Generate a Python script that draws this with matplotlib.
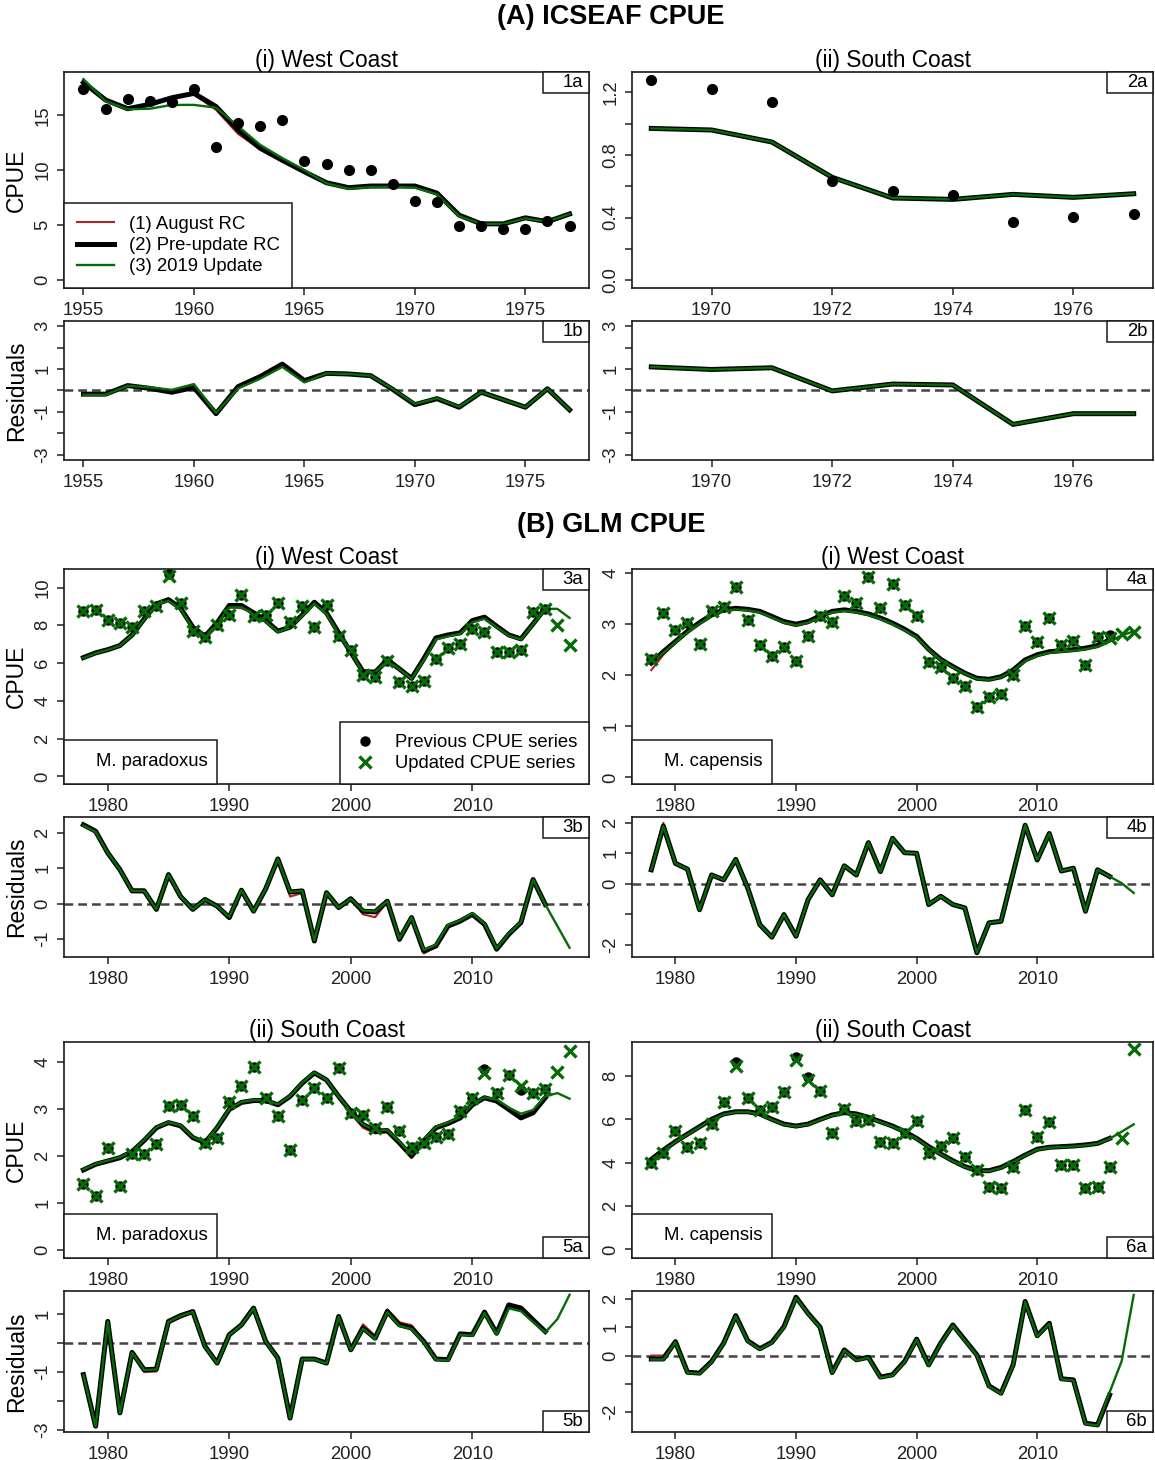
import matplotlib
matplotlib.use('Agg')
import matplotlib.pyplot as plt
from matplotlib.lines import Line2D
from matplotlib.patches import Rectangle
import numpy as np

plt.rcParams['font.family'] = ['Liberation Sans', 'DejaVu Sans']

RED = '#B22222'
GRN = '#066B06'
FS = 13.3  # tick / legend text size

# ---------------- (A) ICSEAF CPUE ----------------
yrs_w = list(range(1955, 1978))
yrs_s = list(range(1969, 1978))

w_obs = [17.4, 15.6, 16.5, 16.3, 16.2, 17.4, 12.1, 14.3, 14.0, 14.6, 10.85, 10.6,
         10.05, 10.05, 8.7, 7.2, 7.1, 4.9, 4.9, 4.65, 4.65, 5.35, 4.9]
w_black = [18.0, 16.4, 15.6, 16.0, 16.6, 17.0, 15.8, 13.65, 12.0, 10.9, 9.85, 8.85,
           8.4, 8.55, 8.55, 8.55, 7.9, 5.9, 5.1, 5.1, 5.65, 5.3, 6.0]
w_red = [18.0, 16.4, 15.6, 16.0, 16.6, 16.9, 15.5, 13.3, 11.9, 10.85, 9.8, 8.8,
         8.45, 8.5, 8.55, 8.55, 7.9, 5.9, 5.1, 5.1, 5.65, 5.3, 6.0]
w_green = [18.3, 16.3, 15.55, 15.6, 15.95, 15.95, 15.7, 14.0, 12.3, 11.1, 10.0, 8.8,
           8.3, 8.45, 8.5, 8.4, 7.8, 5.8, 5.1, 5.1, 5.6, 5.3, 6.0]
w_res_black = [-0.17, -0.17, 0.23, 0.1, -0.08, 0.14, -1.08, 0.18, 0.65, 1.23, 0.46, 0.8,
               0.77, 0.69, 0.05, -0.66, -0.38, -0.78, -0.08, -0.43, -0.78, 0.08, -0.9]
w_res_green = [-0.2, -0.2, 0.22, 0.15, 0.03, 0.3, -1.05, 0.1, 0.55, 1.1, 0.38, 0.8,
               0.77, 0.69, 0.07, -0.63, -0.36, -0.76, -0.08, -0.43, -0.78, 0.08, -0.9]

s_obs = [1.28, 1.22, 1.14, 0.635, 0.567, 0.544, 0.371, 0.403, 0.42]
s_fit = [0.970, 0.960, 0.883, 0.657, 0.525, 0.516, 0.548, 0.529, 0.552]
s_res = [1.1, 0.98, 1.06, -0.02, 0.3, 0.26, -1.58, -1.08, -1.08]

# ---------------- (B) GLM CPUE ----------------
yrs_prev = list(range(1978, 2017))   # previous series / RC fits
yrs_upd = list(range(1978, 2019))    # updated series / 2019 fit

# West coast, M. paradoxus
wp_upd = [8.78, 8.83, 8.29, 8.13, 7.9, 8.78, 9.0, 10.6, 9.17, 7.69,
          7.37, 8.02, 8.55, 9.61, 8.48, 8.55, 9.19, 8.2, 9.01, 7.93,
          9.08, 7.46, 6.71, 5.37, 5.25, 6.13, 4.98, 4.81, 5.07, 6.22,
          6.78, 7.0, 7.81, 7.67, 6.61, 6.61, 6.71, 8.73, 8.87, 7.99, 6.98]
wp_prev = [8.78, 8.83, 8.29, 8.13, 7.9, 8.78, 9.0, 10.7, 9.17, 7.69,
           7.37, 8.02, 8.55, 9.61, 8.48, 8.55, 9.19, 8.2, 9.01, 7.93,
           9.08, 7.46, 6.71, 5.37, 5.25, 6.13, 4.98, 4.81, 5.07, 6.22,
           6.78, 7.0, 7.81, 7.67, 6.61, 6.61, 6.71, 8.73, 8.87]
wp_black = [6.29, 6.54, 6.71, 6.93, 7.49, 8.34, 9.13, 9.36, 8.9, 7.9,
            7.42, 8.13, 9.05, 9.05, 8.66, 8.25, 7.69, 7.9, 8.55, 9.22,
            8.66, 7.6, 6.57, 5.55, 5.51, 6.18, 5.69, 5.19, 6.22, 7.33,
            7.49, 7.6, 8.25, 8.43, 7.95, 7.49, 7.28, 8.08, 8.9]
wp_red = [6.29, 6.54, 6.71, 6.93, 7.49, 8.34, 9.13, 9.36, 8.9, 7.9,
          7.42, 8.13, 8.95, 8.9, 8.66, 8.25, 7.69, 7.9, 8.55, 9.22,
          8.66, 7.6, 6.6, 5.6, 5.6, 6.05, 5.65, 5.15, 6.22, 7.33,
          7.49, 7.6, 8.25, 8.43, 7.95, 7.49, 7.28, 8.08, 8.9]
wp_green = [6.27, 6.52, 6.7, 6.92, 7.47, 8.3, 9.08, 9.3, 8.85, 7.85,
            7.4, 8.08, 8.95, 8.95, 8.6, 8.2, 7.65, 7.88, 8.5, 9.15,
            8.6, 7.55, 6.55, 5.52, 5.5, 6.15, 5.67, 5.17, 6.15, 7.25,
            7.42, 7.55, 8.15, 8.35, 7.9, 7.45, 7.25, 8.05, 8.87, 8.87, 8.39]
wp_res_black = [2.22, 2.04, 1.43, 0.96, 0.36, 0.36, -0.16, 0.82, 0.2, -0.16,
                0.12, -0.07, -0.39, 0.38, -0.21, 0.42, 1.26, 0.33, 0.36, -1.05,
                0.31, -0.11, 0.14, -0.21, -0.23, 0.07, -1.0, -0.39, -1.33, -1.19,
                -0.63, -0.49, -0.3, -0.58, -1.28, -0.86, -0.53, 0.68, -0.02]
wp_res_red = [2.22, 2.04, 1.43, 0.96, 0.4, 0.4, -0.16, 0.82, 0.2, -0.16,
              0.12, -0.07, -0.39, 0.38, -0.21, 0.42, 1.26, 0.2, 0.3, -1.05,
              0.31, -0.11, 0.14, -0.3, -0.38, 0.05, -1.05, -0.39, -1.4, -1.22,
              -0.63, -0.49, -0.3, -0.58, -1.28, -0.86, -0.53, 0.68, -0.02]
wp_res_green = [2.2, 2.02, 1.43, 0.96, 0.36, 0.36, -0.16, 0.82, 0.2, -0.16,
                0.12, -0.07, -0.37, 0.38, -0.21, 0.42, 1.26, 0.33, 0.36, -1.03,
                0.31, -0.11, 0.14, -0.19, -0.22, 0.07, -0.98, -0.39, -1.3, -1.16,
                -0.6, -0.47, -0.27, -0.56, -1.26, -0.84, -0.52, 0.68, -0.02, -0.63, -1.24]

# West coast, M. capensis
wc_upd = [2.31, 3.22, 2.89, 3.03, 2.61, 3.25, 3.33, 3.72, 3.08, 2.59,
          2.37, 2.55, 2.28, 2.76, 3.15, 3.04, 3.56, 3.42, 3.92, 3.31,
          3.79, 3.38, 3.16, 2.25, 2.16, 1.94, 1.79, 1.37, 1.57, 1.63,
          2.01, 2.97, 2.66, 3.12, 2.59, 2.67, 2.2, 2.74, 2.72, 2.81, 2.84]
wc_prev = [2.31, 3.22, 2.89, 3.03, 2.61, 3.25, 3.33, 3.72, 3.08, 2.59,
           2.37, 2.55, 2.28, 2.76, 3.15, 3.04, 3.56, 3.42, 3.92, 3.31,
           3.79, 3.38, 3.16, 2.25, 2.16, 1.94, 1.79, 1.37, 1.57, 1.63,
           2.01, 2.97, 2.66, 3.12, 2.59, 2.67, 2.2, 2.74, 2.78]
wc_black = [2.24, 2.46, 2.66, 2.86, 3.03, 3.18, 3.28, 3.31, 3.29, 3.25,
            3.15, 3.05, 3.0, 3.05, 3.16, 3.25, 3.28, 3.25, 3.2, 3.12,
            3.02, 2.9, 2.76, 2.51, 2.31, 2.17, 2.04, 1.94, 1.92, 1.97,
            2.1, 2.3, 2.4, 2.46, 2.48, 2.5, 2.53, 2.58, 2.69]
wc_red = [2.1, 2.4, 2.63, 2.84, 3.02, 3.17, 3.27, 3.3, 3.28, 3.23,
          3.13, 3.02, 2.96, 3.02, 3.14, 3.24, 3.27, 3.24, 3.19, 3.11,
          3.01, 2.89, 2.75, 2.5, 2.3, 2.16, 2.03, 1.93, 1.91, 1.96,
          2.09, 2.29, 2.39, 2.45, 2.47, 2.49, 2.52, 2.57, 2.68]
wc_green = [2.22, 2.44, 2.64, 2.84, 3.01, 3.16, 3.26, 3.29, 3.27, 3.23,
            3.13, 3.03, 2.98, 3.03, 3.14, 3.23, 3.26, 3.23, 3.18, 3.1,
            3.0, 2.88, 2.74, 2.5, 2.3, 2.16, 2.03, 1.93, 1.91, 1.96,
            2.09, 2.28, 2.38, 2.44, 2.46, 2.48, 2.51, 2.56, 2.66, 2.78, 2.86]
wc_res_black = [0.46, 1.89, 0.67, 0.48, -0.85, 0.29, 0.13, 0.8, -0.14, -1.34,
                -1.75, -1.01, -1.72, -0.52, 0.13, -0.36, 0.59, 0.29, 1.35, 0.4,
                1.49, 1.02, 1.0, -0.68, -0.41, -0.68, -0.79, -2.26, -1.28, -1.23,
                0.35, 1.92, 0.78, 1.65, 0.42, 0.51, -0.9, 0.46, 0.24]
wc_res_red = [0.6, 2.0, 0.7, 0.5, -0.84, 0.3, 0.14, 0.81, -0.13, -1.32,
              -1.72, -0.97, -1.68, -0.5, 0.14, -0.35, 0.6, 0.3, 1.36, 0.41,
              1.5, 1.03, 1.01, -0.67, -0.4, -0.67, -0.78, -2.25, -1.27, -1.22,
              0.36, 1.93, 0.79, 1.66, 0.43, 0.52, -0.89, 0.47, 0.25]
wc_res_green = [0.46, 1.89, 0.67, 0.48, -0.85, 0.29, 0.13, 0.8, -0.14, -1.34,
                -1.75, -1.01, -1.72, -0.52, 0.13, -0.36, 0.59, 0.29, 1.35, 0.4,
                1.49, 1.02, 1.0, -0.68, -0.41, -0.68, -0.79, -2.26, -1.28, -1.23,
                0.35, 1.92, 0.78, 1.65, 0.42, 0.51, -0.9, 0.46, 0.24, 0.02, -0.3]

# South coast, M. paradoxus
sp_upd = [1.41, 1.15, 2.16, 1.35, 2.04, 2.04, 2.26, 3.06, 3.08, 2.85,
          2.27, 2.39, 3.15, 3.5, 3.89, 3.24, 2.86, 2.13, 3.2, 3.45,
          3.24, 3.87, 2.92, 2.88, 2.59, 3.04, 2.53, 2.18, 2.28, 2.4,
          2.47, 2.95, 3.24, 3.77, 3.34, 3.73, 3.5, 3.34, 3.43, 3.79, 4.23]
sp_prev = [1.41, 1.15, 2.16, 1.35, 2.04, 2.04, 2.26, 3.06, 3.08, 2.85,
           2.27, 2.39, 3.15, 3.5, 3.89, 3.24, 2.86, 2.13, 3.2, 3.45,
           3.24, 3.87, 2.92, 2.88, 2.59, 3.04, 2.53, 2.18, 2.28, 2.4,
           2.47, 2.95, 3.24, 3.85, 3.34, 3.73, 3.4, 3.34, 3.43]
sp_black = [1.7, 1.82, 1.89, 1.96, 2.09, 2.33, 2.6, 2.71, 2.64, 2.39,
            2.28, 2.6, 2.99, 3.14, 3.18, 3.18, 3.09, 3.27, 3.55, 3.77,
            3.62, 3.27, 2.95, 2.67, 2.53, 2.54, 2.28, 2.0, 2.32, 2.6,
            2.69, 2.81, 3.09, 3.24, 3.17, 2.99, 2.81, 2.92, 3.24]
sp_red = [1.71, 1.83, 1.9, 1.97, 2.1, 2.34, 2.61, 2.72, 2.65, 2.4,
          2.29, 2.6, 2.99, 3.14, 3.18, 3.18, 3.09, 3.27, 3.55, 3.76,
          3.6, 3.24, 2.9, 2.6, 2.48, 2.5, 2.24, 1.95, 2.3, 2.6,
          2.69, 2.81, 3.09, 3.24, 3.17, 2.99, 2.81, 2.92, 3.24]
sp_green = [1.71, 1.83, 1.9, 1.97, 2.1, 2.34, 2.61, 2.72, 2.65, 2.4,
            2.29, 2.61, 3.0, 3.15, 3.19, 3.19, 3.1, 3.28, 3.56, 3.78,
            3.62, 3.27, 2.95, 2.67, 2.54, 2.55, 2.3, 2.03, 2.34, 2.62,
            2.71, 2.83, 3.1, 3.25, 3.2, 3.03, 2.9, 2.98, 3.27, 3.34, 3.22]
sp_res_black = [-1.09, -2.87, 0.75, -2.41, -0.32, -0.92, -0.9, 0.75, 0.95, 1.09,
                -0.11, -0.69, 0.29, 0.63, 1.21, 0.06, -0.52, -2.59, -0.55, -0.55,
                -0.69, 0.92, -0.23, 0.52, 0.17, 1.09, 0.63, 0.52, 0.06, -0.55,
                -0.57, 0.32, 0.29, 1.07, 0.34, 1.32, 1.21, 0.8, 0.4]
sp_res_red = [-1.09, -2.87, 0.75, -2.41, -0.34, -1.0, -0.98, 0.68, 0.88, 1.05,
              -0.11, -0.69, 0.29, 0.63, 1.21, 0.06, -0.52, -2.59, -0.55, -0.55,
              -0.66, 0.95, -0.18, 0.65, 0.25, 1.17, 0.72, 0.62, 0.08, -0.55,
              -0.57, 0.32, 0.29, 1.07, 0.34, 1.32, 1.21, 0.8, 0.4]
sp_res_green = [-1.1, -2.88, 0.74, -2.42, -0.33, -0.93, -0.91, 0.74, 0.94, 1.08,
                -0.12, -0.7, 0.28, 0.62, 1.2, 0.05, -0.53, -2.6, -0.56, -0.56,
                -0.7, 0.91, -0.24, 0.5, 0.15, 1.07, 0.6, 0.49, 0.03, -0.57,
                -0.6, 0.29, 0.26, 1.04, 0.3, 1.2, 1.1, 0.72, 0.37, 0.83, 1.67]

# South coast, M. capensis
sc_upd = [4.0, 4.43, 5.48, 4.71, 4.92, 5.77, 6.82, 8.45, 6.97, 6.43,
          6.55, 7.28, 8.72, 7.8, 7.32, 5.38, 6.46, 5.92, 5.97, 4.97,
          4.92, 5.35, 5.94, 4.43, 4.77, 5.12, 4.28, 3.66, 2.89, 2.82,
          3.78, 6.43, 5.2, 5.89, 3.89, 3.89, 2.82, 2.89, 3.82, 5.15, 9.23]
sc_prev = [4.0, 4.43, 5.48, 4.71, 4.92, 5.77, 6.82, 8.65, 6.97, 6.43,
           6.55, 7.28, 8.9, 7.95, 7.32, 5.38, 6.46, 5.92, 5.97, 4.97,
           4.92, 5.35, 5.94, 4.43, 4.77, 5.12, 4.28, 3.66, 2.89, 2.82,
           3.78, 6.43, 5.2, 5.89, 3.89, 3.89, 2.82, 2.89, 3.82]
sc_black = [4.15, 4.58, 4.97, 5.32, 5.66, 6.0, 6.25, 6.35, 6.35, 6.25,
            6.0, 5.78, 5.69, 5.78, 6.0, 6.2, 6.31, 6.25, 6.09, 5.89,
            5.69, 5.43, 5.12, 4.74, 4.4, 4.09, 3.82, 3.63, 3.63, 3.78,
            4.05, 4.35, 4.62, 4.71, 4.74, 4.77, 4.82, 4.89, 5.12]
sc_red = [4.13, 4.56, 4.95, 5.3, 5.64, 5.98, 6.23, 6.33, 6.33, 6.22,
          5.97, 5.74, 5.64, 5.74, 5.97, 6.18, 6.29, 6.23, 6.07, 5.87,
          5.67, 5.42, 5.11, 4.74, 4.4, 4.09, 3.82, 3.63, 3.63, 3.78,
          4.05, 4.35, 4.63, 4.73, 4.77, 4.8, 4.85, 4.92, 5.15]
sc_green = [4.13, 4.56, 4.95, 5.3, 5.64, 5.98, 6.23, 6.33, 6.33, 6.23,
            5.98, 5.76, 5.67, 5.76, 5.98, 6.18, 6.29, 6.23, 6.07, 5.87,
            5.67, 5.41, 5.1, 4.72, 4.38, 4.07, 3.8, 3.61, 3.61, 3.76,
            4.03, 4.33, 4.6, 4.69, 4.72, 4.75, 4.8, 4.88, 5.1, 5.43, 5.77]
sc_res_black = [-0.12, -0.12, 0.49, -0.59, -0.62, -0.21, 0.44, 1.41, 0.52, 0.24,
                0.47, 1.02, 2.06, 1.49, 1.0, -0.6, 0.2, -0.15, -0.06, -0.76,
                -0.68, -0.21, 0.58, -0.33, 0.44, 1.08, 0.55, 0.02, -1.07, -1.33,
                -0.33, 1.91, 0.7, 1.14, -0.82, -0.86, -2.39, -2.45, -1.39]
sc_res_red = [0.0, 0.0, 0.52, -0.57, -0.6, -0.19, 0.46, 1.43, 0.54, 0.26,
              0.49, 1.04, 2.08, 1.51, 1.02, -0.58, 0.21, -0.14, -0.05, -0.75,
              -0.67, -0.2, 0.59, -0.32, 0.45, 1.09, 0.56, 0.03, -1.06, -1.32,
              -0.32, 1.92, 0.71, 1.15, -0.81, -0.85, -2.38, -2.44, -1.38]
sc_res_green = [-0.14, -0.14, 0.47, -0.61, -0.64, -0.23, 0.42, 1.39, 0.5, 0.22,
                0.45, 1.0, 2.04, 1.47, 0.98, -0.62, 0.18, -0.17, -0.08, -0.78,
                -0.7, -0.23, 0.56, -0.35, 0.42, 1.06, 0.53, 0.0, -1.09, -1.35,
                -0.35, 1.89, 0.68, 1.12, -0.84, -0.88, -2.41, -2.47, -1.3, -0.2, 2.14]

W, H = 1155, 1460
fig = plt.figure(figsize=(W / 100, H / 100), dpi=100)

LEFT = (64, 589)
RIGHT = (632, 1153)


def axes_px(cols, rows):
    x0, x1 = cols
    y0, y1 = rows
    return fig.add_axes([x0 / W, 1 - y1 / H, (x1 - x0) / W, (y1 - y0) / H])


def style(ax, xlim, ylim, xticks, yticks, ylabels):
    ax.set_xlim(*xlim)
    ax.set_ylim(*ylim)
    ax.set_xticks(xticks)
    ax.set_xticklabels([str(t) for t in xticks], fontsize=FS)
    ax.set_yticks(yticks)
    ax.set_yticklabels(ylabels, rotation=90, va='center', fontsize=FS)
    ax.tick_params(direction='out', length=5, width=1.1, colors='#222222')
    ax.tick_params(axis='x', pad=5)
    ax.tick_params(axis='y', pad=4)
    for s in ax.spines.values():
        s.set_linewidth(1.2)
        s.set_color('#1a1a1a')


def tag(ax, txt, corner, wpx=46, hpx=21, pad=6):
    bb = ax.get_position()
    w = wpx / (bb.width * W)
    h = hpx / (bb.height * H)
    px = pad / (bb.width * W)
    x0 = 0 if corner.endswith('l') else 1 - w
    y0 = 1 - h if corner.startswith('t') else 0
    ax.add_patch(Rectangle((x0, y0), w, h, transform=ax.transAxes, facecolor='white',
                           edgecolor='#1a1a1a', lw=1.1, clip_on=False, zorder=8))
    ax.text(x0 + w - px, y0 + h / 2, txt, transform=ax.transAxes, ha='right',
            va='center', fontsize=FS, zorder=9)


def fits(ax, yrs_rc, red, black, yrs_new, green):
    ax.plot(yrs_rc, red, color=RED, lw=1.5, zorder=2)
    ax.plot(yrs_rc, black, color='black', lw=3.6, zorder=3)
    ax.plot(yrs_new, green, color=GRN, lw=1.7, zorder=4)


def zero_line(ax):
    ax.axhline(0, color='#444444', lw=1.8, ls=(0, (3.5, 2)), zorder=1)


def ylab(ax, txt):
    ax.set_ylabel(txt, fontsize=16.5)
    ax.yaxis.set_label_coords(-0.068, 0.5)


# ---------- titles ----------
fig.text(611 / W, 1 - 17 / H, '(A) ICSEAF CPUE', ha='center', va='center',
         fontsize=19.5, fontweight='bold')
fig.text(611 / W, 1 - 525 / H, '(B) GLM CPUE', ha='center', va='center',
         fontsize=19.5, fontweight='bold')

xl_w = (1954.12, 1977.88)
xl_s = (1968.68, 1977.32)
xl_g = (1976.4, 2019.6)
res_ticks3 = [-3, -2, -1, 0, 1, 2, 3]
res_lab3 = ['-3', '', '-1', '', '1', '', '3']
TFS = 16.3  # panel title size

# ---------- 1a ----------
ax = axes_px(LEFT, (72, 288))
fits(ax, yrs_w, w_red, w_black, yrs_w, w_green)
ax.plot(yrs_w, w_obs, 'o', color='black', ms=7, zorder=6)
style(ax, xl_w, (-0.75, 18.95), list(range(1955, 1976, 5)), [0, 5, 10, 15],
      ['0', '5', '10', '15'])
ax.set_title('(i) West Coast', fontsize=TFS, pad=1)
ylab(ax, 'CPUE')
tag(ax, '1a', 'tr')
handles = [Line2D([], [], color=RED, lw=1.5), Line2D([], [], color='black', lw=3.6),
           Line2D([], [], color=GRN, lw=1.7)]
leg = ax.legend(handles, ['(1) August RC', '(2) Pre-update RC', '(3) 2019 Update'],
                loc='lower left', bbox_to_anchor=(0, 0), borderaxespad=0, fancybox=False,
                edgecolor='#1a1a1a', framealpha=1, fontsize=FS, handlelength=2.0,
                handletextpad=0.8, labelspacing=0.22, borderpad=0.7)
leg.get_frame().set_linewidth(1.1)
leg.set_zorder(10)

# ---------- 2a ----------
ax = axes_px(RIGHT, (72, 288))
fits(ax, yrs_s, s_fit, s_fit, yrs_s, s_fit)
ax.plot(yrs_s, s_obs, 'o', color='black', ms=7, zorder=6)
style(ax, xl_s, (-0.051, 1.331), list(range(1970, 1977, 2)),
      [0, 0.2, 0.4, 0.6, 0.8, 1.0, 1.2], ['0.0', '', '0.4', '', '0.8', '', '1.2'])
ax.set_title('(ii) South Coast', fontsize=TFS, pad=1)
tag(ax, '2a', 'tr')

# ---------- 1b ----------
ax = axes_px(LEFT, (321, 460))
zero_line(ax)
fits(ax, yrs_w, w_res_black, w_res_black, yrs_w, w_res_green)
style(ax, xl_w, (-3.24, 3.24), list(range(1955, 1976, 5)), res_ticks3, res_lab3)
ylab(ax, 'Residuals')
tag(ax, '1b', 'tr')

# ---------- 2b ----------
ax = axes_px(RIGHT, (321, 460))
zero_line(ax)
fits(ax, yrs_s, s_res, s_res, yrs_s, s_res)
style(ax, xl_s, (-3.24, 3.24), list(range(1970, 1977, 2)), res_ticks3, res_lab3)
tag(ax, '2b', 'tr')


def glm_cpue(cols, rows, prev, upd, red, black, green, ylim, yticks, title, species,
             label, label_corner, ylabel=False, legend=False):
    ax = axes_px(cols, rows)
    fits(ax, yrs_prev, red, black, yrs_upd, green)
    ax.plot(yrs_prev, prev, 'o', color='black', ms=6.5, zorder=6)
    ax.plot(yrs_upd, upd, 'x', color=GRN, ms=8, mew=2.4, zorder=7)
    style(ax, xl_g, ylim, [1980, 1990, 2000, 2010], yticks, [str(t) for t in yticks])
    ax.set_title(title, fontsize=TFS, pad=1)
    if ylabel:
        ylab(ax, 'CPUE')
    tag(ax, label, label_corner)
    tag(ax, species, 'bl', wpx=153 if ylabel else 140, hpx=44, pad=9)
    if legend:
        hs = [Line2D([], [], ls='', marker='o', color='black', ms=6.5),
              Line2D([], [], ls='', marker='x', color=GRN, ms=8, mew=2.4)]
        lg = ax.legend(hs, ['Previous CPUE series', 'Updated CPUE series'],
                       loc='lower right', bbox_to_anchor=(1, 0), borderaxespad=0,
                       fancybox=False, edgecolor='#1a1a1a', framealpha=1, fontsize=FS,
                       handlelength=1.4, handletextpad=0.9, labelspacing=0.2,
                       borderpad=0.65)
        lg.get_frame().set_linewidth(1.1)
        lg.set_zorder(10)
    return ax


def glm_res(cols, rows, red, black, green, ylim, yticks, ylabs, label, label_corner,
            ylabel=False):
    ax = axes_px(cols, rows)
    zero_line(ax)
    fits(ax, yrs_prev, red, black, yrs_upd, green)
    style(ax, xl_g, ylim, [1980, 1990, 2000, 2010], yticks, ylabs)
    if ylabel:
        ylab(ax, 'Residuals')
    tag(ax, label, label_corner)
    return ax


glm_cpue(LEFT, (569, 784), wp_prev, wp_upd, wp_red, wp_black, wp_green, (-0.4, 10.98),
         [0, 2, 4, 6, 8, 10], '(i) West Coast', 'M. paradoxus', '3a', 'tr',
         ylabel=True, legend=True)
glm_cpue(RIGHT, (569, 784), wc_prev, wc_upd, wc_red, wc_black, wc_green, (-0.13, 4.08),
         [0, 1, 2, 3, 4], '(i) West Coast', 'M. capensis', '4a', 'tr')
glm_res(LEFT, (817, 957), wp_res_red, wp_res_black, wp_res_green, (-1.5, 2.44),
        [-1, 0, 1, 2], ['-1', '0', '1', '2'], '3b', 'tr', ylabel=True)
glm_res(RIGHT, (817, 957), wc_res_red, wc_res_black, wc_res_green, (-2.4, 2.19),
        [-2, -1, 0, 1, 2], ['-2', '', '0', '1', '2'], '4b', 'tr')

glm_cpue(LEFT, (1042, 1258), sp_prev, sp_upd, sp_red, sp_black, sp_green, (-0.18, 4.43),
         [0, 1, 2, 3, 4], '(ii) South Coast', 'M. paradoxus', '5a', 'br', ylabel=True)
glm_cpue(RIGHT, (1042, 1258), sc_prev, sc_upd, sc_red, sc_black, sc_green, (-0.4, 9.57),
         [0, 2, 4, 6, 8], '(ii) South Coast', 'M. capensis', '6a', 'br')
glm_res(LEFT, (1291, 1432), sp_res_red, sp_res_black, sp_res_green, (-3.07, 1.8),
        [-3, -2, -1, 0, 1], ['-3', '', '-1', '', '1'], '5b', 'br', ylabel=True)
glm_res(RIGHT, (1291, 1432), sc_res_red, sc_res_black, sc_res_green, (-2.7, 2.28),
        [-2, -1, 0, 1, 2], ['-2', '', '0', '1', '2'], '6b', 'br')

fig.savefig('out.png', dpi=100)
